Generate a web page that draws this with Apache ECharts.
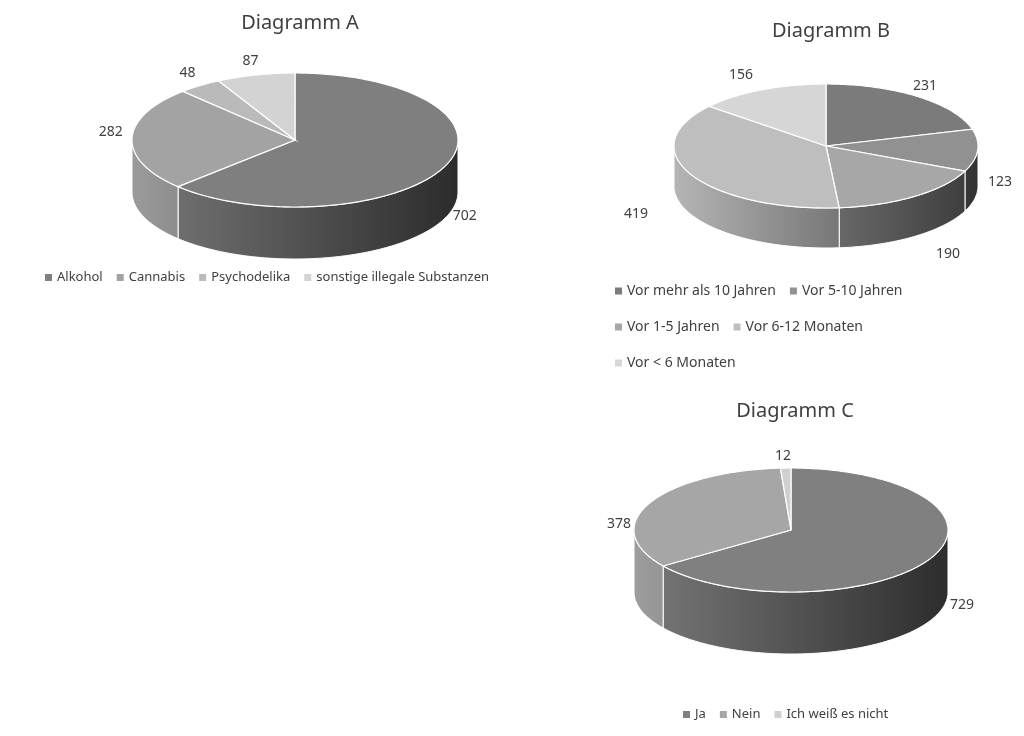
<!DOCTYPE html><html><head><meta charset="utf-8">
<script src="https://cdn.jsdelivr.net/npm/echarts@6/dist/echarts.min.js"></script>
<style>html,body{margin:0;background:#fff}#c{width:1024px;height:736px}</style></head><body><div id="c"></div>
<script>
const namesA=['Alkohol','Cannabis','Psychodelika','sonstige illegale Substanzen'];
const valuesA=[702,282,48,87];
const colorsA=['#7f7f7f','#a3a3a3','#bababa','#d3d3d3'];
const namesB=['Vor mehr als 10 Jahren','Vor 5-10 Jahren','Vor 1-5 Jahren','Vor 6-12 Monaten','Vor < 6 Monaten'];
const valuesB=[231,123,190,419,156];
const colorsB=['#7b7b7b','#919191','#a7a7a7','#bebebe','#d6d6d6'];
const namesC=['Ja','Nein','Ich weiß es nicht'];
const valuesC=[729,378,12];
const colorsC=['#808080','#a6a6a6','#d0d0d0'];

function shade(hex,f){const n=parseInt(hex.slice(1),16);const r=Math.round(((n>>16)&255)*f),g=Math.round(((n>>8)&255)*f),b=Math.round((n&255)*f);return 'rgb('+r+','+g+','+b+')';}
function pie3d(id,names,values,colors,g){
  const tot=values.reduce((a,b)=>a+b,0);let acc=0;
  const ang=values.map(v=>{const a0=-Math.PI/2+acc/tot*2*Math.PI;acc+=v;return [a0,-Math.PI/2+acc/tot*2*Math.PI];});
  const P=(a,dy)=>[g.cx+g.rx*Math.cos(a),g.cy+g.ry*Math.sin(a)+(dy||0)];
  const arc=(a0,a1,dy)=>{const pts=[];const n=Math.max(2,Math.ceil((a1-a0)/0.02));for(let i=0;i<=n;i++)pts.push(P(a0+(a1-a0)*i/n,dy));return pts;};
  const sides={type:'custom',id:id+'s',coordinateSystem:'none',silent:true,data:values,z:1,
    renderItem:(p,api)=>{const [a0,a1]=ang[p.dataIndex];const children=[];
      const segs=[[0,Math.PI],[2*Math.PI,3*Math.PI]];
      segs.forEach(([s,e])=>{const b0=Math.max(a0,s),b1=Math.min(a1,e);if(b1>b0){
        const top=arc(b0,b1,0),bot=arc(b0,b1,g.d).reverse();
        children.push({type:'polygon',shape:{points:top.concat(bot)},style:{fill:new echarts.graphic.LinearGradient(g.cx-g.rx,0,g.cx+g.rx,0,[{offset:0,color:shade(colors[p.dataIndex],0.95)},{offset:1,color:shade(colors[p.dataIndex],0.35)}],true),stroke:'#fff',lineWidth:1}});}});
      return {type:'group',children};}};
  const tops={type:'custom',id:id+'t',coordinateSystem:'none',silent:true,data:values,z:2,
    renderItem:(p,api)=>{const i=p.dataIndex;const [a0,a1]=ang[i];
      const pts=[[g.cx,g.cy]].concat(arc(a0,a1,0));
      const m=(a0+a1)/2;const lr=g.lr||1.13;
      let lx=g.cx+g.rx*lr*Math.cos(m),ly=g.cy+g.ry*lr*Math.sin(m)+(Math.sin(m)>0?g.d*0.9:0)-(Math.sin(m)<0?6:0);
      if(g.lab&&g.lab[i]){lx=g.lab[i][0];ly=g.lab[i][1];}
      return {type:'group',children:[
        {type:'polygon',shape:{points:pts},style:{fill:colors[i],stroke:'#fff',lineWidth:1.2}},
        {type:'text',x:lx,y:ly,style:{text:String(values[i]),fill:'#404040',font:'14px "Noto Sans"',align:'center',verticalAlign:'middle'}}]};}};
  const leg={type:'pie',name:id,radius:[0,0],center:[-100,-100],label:{show:false},silent:true,
    data:names.map((n,i)=>({name:n,value:values[i],itemStyle:{color:colors[i]}}))};
  return [sides,tops,leg];
}
const series=[].concat(
  pie3d('A',namesA,valuesA,colorsA,{cx:295,cy:140,rx:163,ry:67,d:52}),
  pie3d('B',namesB,valuesB,colorsB,{cx:826,cy:146,rx:152,ry:62,d:40,lab:{0:[925,86],1:[1000,182],2:[948,254],3:[636,214],4:[741,75]}}),
  pie3d('C',namesC,valuesC,colorsC,{cx:791,cy:530,rx:157,ry:62,d:62,lab:{0:[962,605],1:[619,524],2:[783,456]}})
);
const tf={fontFamily:'Noto Sans',fontSize:20,fontWeight:'normal',color:'#404040'};
const lt={color:'#404040',fontSize:13,fontFamily:'Noto Sans'};
const chart=echarts.init(document.getElementById('c'));
chart.setOption({animation:false,
 title:[{text:'Diagramm A',left:295,top:8,textAlign:'center',textStyle:tf},
        {text:'Diagramm B',left:826,top:16,textAlign:'center',textStyle:tf},
        {text:'Diagramm C',left:790,top:396,textAlign:'center',textStyle:tf}],
 legend:[{data:namesA,left:40,top:266,icon:'rect',itemWidth:7,itemHeight:7,itemGap:14,textStyle:lt},
   {data:namesB,left:615,top:280,width:350,icon:'rect',itemWidth:7,itemHeight:7,itemGap:14,textStyle:Object.assign({},lt,{fontSize:14,lineHeight:22}),padding:[0,0,0,0]},
   {data:namesC,left:678,top:703,icon:'rect',itemWidth:7,itemHeight:7,itemGap:14,textStyle:lt}],
 series});
</script></body></html>
